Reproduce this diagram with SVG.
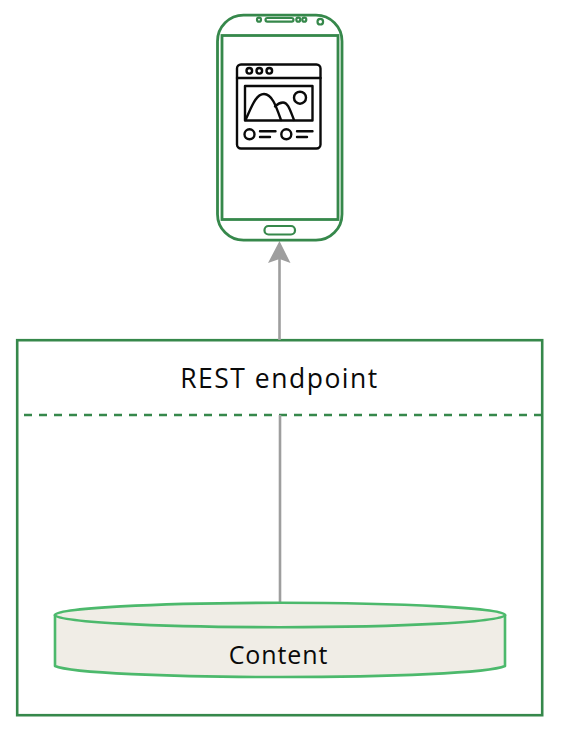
<svg xmlns="http://www.w3.org/2000/svg" width="572" height="740" viewBox="0 0 572 740">
<style>
.phone{fill:none;stroke:#36884b;stroke-width:2.8}
.ph2{fill:none;stroke:#36884b;stroke-width:2.2}
.ico{fill:none;stroke:#0a0a0a;stroke-width:2.4;stroke-linecap:round;stroke-linejoin:round}
.box{fill:none;stroke:#36884b;stroke-width:2.6}
.conn{fill:none;stroke:#9e9e9e;stroke-width:2.6}
.cyl{fill:#f0ede6;stroke:#4cb96c;stroke-width:2.6;stroke-linejoin:round}
text{font-family:"Open Sans","Liberation Sans",sans-serif;fill:#0a0a0a;text-anchor:middle}
</style>
<rect width="572" height="740" fill="#fff"/>
<g id="rest-endpoint">
<rect class="box" x="17.2" y="340.2" width="525" height="375"/>
<path class="box" d="M24 415H542" stroke-dasharray="8 7"/>
<text x="279.5" y="388" font-size="26.5" letter-spacing="1.5">REST endpoint</text>
</g>
<g id="connectors">
<path class="conn" d="M279.5 340V258"/>
<path d="M279.5 241L290.5 263L279.5 259L268 263Z" fill="#9e9e9e"/>
<path class="conn" d="M280 415V603"/>
</g>
<g id="phone">
<rect class="phone" x="217.5" y="15.2" width="124.5" height="225" rx="26"/>
<rect class="phone" x="222" y="35.5" width="116" height="184"/>
<rect class="ph2" x="264.5" y="226" width="30.5" height="8.5" rx="4"/>
<circle class="ph2" cx="259" cy="19.7" r="2"/>
<rect class="ph2" x="265.5" y="18" width="28" height="3.6" rx="1.8"/>
<circle class="ph2" cx="298.3" cy="19.7" r="2"/>
<circle class="ph2" cx="304.3" cy="19.7" r="2"/>
<circle class="ph2" cx="320.3" cy="21.7" r="2.8"/>
<g id="app-icon">
<rect class="ico" x="237" y="64.5" width="83.5" height="84" rx="4"/>
<path class="ico" d="M237 78H320.5"/>
<circle class="ico" cx="249.3" cy="70.8" r="2.8"/>
<circle class="ico" cx="259.3" cy="70.8" r="2.8"/>
<circle class="ico" cx="269.3" cy="70.8" r="2.8"/>
<rect class="ico" x="245" y="86" width="67.5" height="34.5"/>
<circle class="ico" cx="300" cy="97.7" r="6"/>
<path class="ico" d="M245.5 120C252 106 256 94 264 94C272 94 276 106 281 120"/>
<path class="ico" d="M275 106.5C278 103.500 280 102.500 283 102.500C288 102.500 290 110 294 120"/>
<circle class="ico" cx="249.5" cy="134.3" r="5"/>
<circle class="ico" cx="286.3" cy="134.3" r="5"/>
<path class="ico" d="M260 131.3H275.5M260 137H270M297 131.3H312.5M297 137H307"/>
</g>
</g>
<g id="content">
<path class="cyl" d="M55 615V666C70 673 170 677 280 677C390 677 490 673 505 666V615"/>
<ellipse class="cyl" cx="280" cy="615" rx="225.2" ry="12.2"/>
<text x="278.500" y="664" font-size="25" letter-spacing="0.9">Content</text>
</g>
</svg>
